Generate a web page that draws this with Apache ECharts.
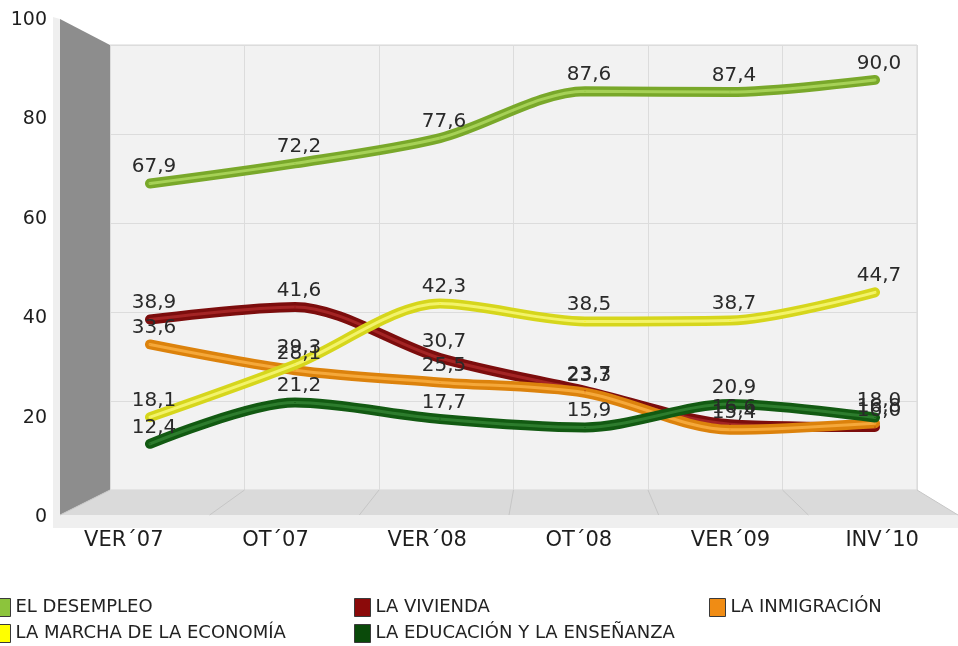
<!DOCTYPE html>
<html>
<head>
<meta charset="utf-8">
<script src="https://cdn.jsdelivr.net/npm/echarts@6/dist/echarts.min.js"></script>
<style>html,body{margin:0;padding:0;background:#fff;}#c{width:958px;height:646px;}</style>
</head>
<body>
<div id="c"></div>
<script>
const categories = ['VER\u00B407','OT\u00B407','VER\u00B408','OT\u00B408','VER\u00B409','INV\u00B410'];
const desempleo   = [67.9, 72.2, 77.6, 87.6, 87.4, 90.0];
const vivienda    = [38.9, 41.6, 30.7, 23.7, 16.6, 16.0];
const inmigracion = [33.6, 28.1, 25.5, 23.3, 15.4, 16.8];
const economia    = [18.1, 29.3, 42.3, 38.5, 38.7, 44.7];
const educacion   = [12.4, 21.2, 17.7, 15.9, 20.9, 18.0];
const seriesNames = ['EL DESEMPLEO','LA VIVIENDA','LA INMIGRACIÓN','LA MARCHA DE LA ECONOMÍA','LA EDUCACIÓN Y LA ENSEÑANZA'];
const yMin = 0, yMax = 100, yStep = 20;

const FONT = 'DejaVu Sans, Verdana, sans-serif';
const styles = [
  {legend:'#8cc43c', line:'#79a82a', hi:'#a6d156'},
  {legend:'#8b0a0a', line:'#7c0d0d', hi:'#a32424'},
  {legend:'#f08c14', line:'#dc820c', hi:'#f5a83a'},
  {legend:'#ffff00', line:'#d6d61c', hi:'#f3f36a'},
  {legend:'#0a4a0a', line:'#125a12', hi:'#2d7c2d'}
];
const values = [desempleo, vivienda, inmigracion, economia, educacion];

// back wall geometry
const wall = {left:110, top:45, right:917, bottom:490};
const front = {left:60, right:958, bottom:515};
const fmt = v => v.toFixed(1).replace('.', ',');

const series = [];
values.forEach((vals, i) => {
  series.push({
    name: seriesNames[i], type:'line', xAxisIndex:2, yAxisIndex:2,
    data: vals, smooth:0.3, symbol:'circle', symbolSize:1,
    itemStyle:{color:styles[i].legend},
    lineStyle:{color:styles[i].line, width:10, cap:'round'},
    label:{show:true, position:'top', distance:6, offset:[4,0], fontSize:20, color:'#2a2a2a', fontFamily:FONT,
      formatter: p => fmt(p.value)},
    z:2
  });
  series.push({
    name: '_h' + i, type:'line', xAxisIndex:2, yAxisIndex:2,
    data: vals, smooth:0.3, symbol:'none', silent:true,
    lineStyle:{color:styles[i].hi, width:3, cap:'round'},
    z:2
  });
});

// floor perspective lines
const floorLines = [];
for (let i = 0; i <= 6; i++) {
  const bx = wall.left + i * (wall.right - wall.left) / 6;
  const fx = front.left + (bx - wall.left) * (front.right - front.left) / (wall.right - wall.left);
  floorLines.push({type:'line', shape:{x1:bx, y1:wall.bottom, x2:fx, y2:front.bottom},
    style:{stroke:'#c6c6c6', lineWidth:1}, z:1});
}

const legendBase = {orient:'vertical', top:598, height:80, padding:0, itemWidth:16, itemHeight:18, itemGap:7, icon:'rect',
  selectedMode:false, itemStyle:{borderColor:'#3a3a3a', borderWidth:1},
  textStyle:{fontSize:18, lineHeight:18, color:'#222', fontFamily:FONT}};

const option = {
  backgroundColor:'#ffffff',
  animation:false,
  graphic:[
    {type:'polygon', shape:{points:[[53,17],[60,19],[60,front.bottom],[front.right,front.bottom],[front.right,528],[53,528]]},
      style:{fill:'#efefef'}, z:0},
    {type:'polygon', shape:{points:[[60,19],[wall.left,wall.top],[wall.left,wall.bottom],[60,front.bottom]]},
      style:{fill:'#8d8d8d'}, z:1},
    {type:'polygon', shape:{points:[[60,front.bottom],[wall.left,wall.bottom],[wall.right,wall.bottom],[front.right,front.bottom]]},
      style:{fill:'#dadada'}, z:1}
  ].concat(floorLines),
  grid:[
    {left:wall.left, top:wall.top, width:wall.right-wall.left, height:wall.bottom-wall.top,
      show:true, backgroundColor:'#f2f2f2', borderColor:'#d6d6d6', borderWidth:1},
    {left:48, top:20, width:920, height:497},
    {left:150, top:33, width:725, height:469},
    {left:60, top:20, width:898, height:497}
  ],
  xAxis:[
    {type:'category', gridIndex:0, data:categories, boundaryGap:true,
      axisLine:{show:false}, axisTick:{show:false}, axisLabel:{show:false},
      splitLine:{show:true, lineStyle:{color:'#dcdcdc', width:1}}},
    {type:'category', gridIndex:1, data:categories, boundaryGap:true,
      axisLine:{show:false}, axisTick:{show:false},
      axisLabel:{show:true, margin:13, fontSize:21, color:'#1e1e1e', fontFamily:FONT},
      splitLine:{show:false}},
    {type:'category', gridIndex:2, data:categories, boundaryGap:false, show:false},
    {type:'category', gridIndex:3, data:categories, show:false}
  ],
  yAxis:[
    {type:'value', gridIndex:0, min:yMin, max:yMax, interval:yStep,
      axisLine:{show:false}, axisTick:{show:false}, axisLabel:{show:false},
      splitLine:{show:true, lineStyle:{color:'#dcdcdc', width:1}}},
    {type:'value', gridIndex:1, min:yMin, max:yMax, show:false, splitLine:{show:false}},
    {type:'value', gridIndex:2, min:yMin, max:yMax, show:false, splitLine:{show:false}},
    {type:'value', gridIndex:3, min:yMin, max:yMax, interval:yStep,
      axisLine:{show:false}, axisTick:{show:false}, splitLine:{show:false},
      axisLabel:{show:true, margin:13, fontSize:19, color:'#1e1e1e', fontFamily:FONT}}
  ],
  legend:[
    Object.assign({}, legendBase, {left:-6, data:[seriesNames[0], seriesNames[3]]}),
    Object.assign({}, legendBase, {left:354, data:[seriesNames[1], seriesNames[4]]}),
    Object.assign({}, legendBase, {left:709, data:[seriesNames[2]]})
  ],
  series: series
};

const chart = echarts.init(document.getElementById('c'), null, {renderer:'canvas'});
chart.setOption(option);
</script>
</body>
</html>
